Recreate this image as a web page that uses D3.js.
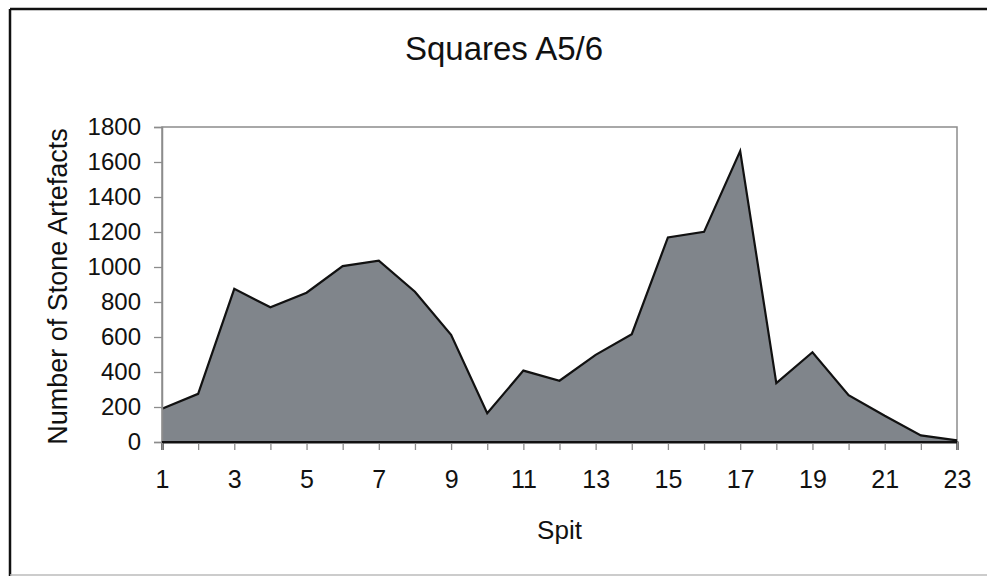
<!DOCTYPE html>
<html>
<head>
<meta charset="utf-8">
<script src="https://cdn.jsdelivr.net/npm/d3@7"></script>
<style>
  html, body { margin: 0; padding: 0; background: #fff; }
  svg { display: block; font-family: "Liberation Sans", Arial, sans-serif; }
  svg text { font-family: "Liberation Sans", Arial, sans-serif; }
</style>
</head>
<body>
<svg id="chart" width="987" height="576"></svg>
<script>
const spits = [1,2,3,4,5,6,7,8,9,10,11,12,13,14,15,16,17,18,19,20,21,22,23];
const artefacts = [190,275,875,770,853,1005,1036,859,612,165,408,350,498,616,1169,1201,1663,336,513,268,150,38,9];
const xTickLabels = [1,3,5,7,9,11,13,15,17,19,21,23];
const yTickLabels = [0,200,400,600,800,1000,1200,1400,1600,1800];
const title = "Squares A5/6";
const xTitle = "Spit";
const yTitle = "Number of Stone Artefacts";

(function () {
const svg = d3.select("#chart");
const pLeft = 162, pRight = 957, pTop = 127, pBottom = 442;

// outer frame
svg.append("line").attr("x1", 10).attr("x2", 10).attr("y1", 9).attr("y2", 576)
  .attr("stroke", "#111").attr("stroke-width", 2.5);
svg.append("line").attr("x1", 10).attr("x2", 987).attr("y1", 9).attr("y2", 9)
  .attr("stroke", "#111").attr("stroke-width", 2.5);
svg.append("line").attr("x1", 10).attr("x2", 987).attr("y1", 575).attr("y2", 575)
  .attr("stroke", "#bbb").attr("stroke-width", 1.5);

const x = d3.scaleLinear().domain([1, 23]).range([pLeft, pRight]);
const y = d3.scaleLinear().domain([0, 1800]).range([pBottom, pTop]);

// plot border
svg.append("rect").attr("x", pLeft).attr("y", pTop)
  .attr("width", pRight - pLeft).attr("height", pBottom - pTop)
  .attr("fill", "#fff").attr("stroke", "#8c8c8c").attr("stroke-width", 1.5);

const data = spits.map((s, i) => ({s, v: artefacts[i]}));

svg.append("path").datum(data)
  .attr("d", d3.area().x(d => x(d.s)).y0(y(0)).y1(d => y(d.v)))
  .attr("fill", "#80858b");

svg.append("path").datum(data)
  .attr("d", d3.line().x(d => x(d.s)).y(d => y(d.v)))
  .attr("fill", "none").attr("stroke", "#111").attr("stroke-width", 2.2)
  .attr("stroke-linejoin", "miter");

// x axis
const xAxis = svg.append("g").attr("transform", `translate(0,${pBottom})`)
  .call(d3.axisBottom(x).tickValues(spits).tickSize(8).tickPadding(20)
    .tickFormat(d => xTickLabels.includes(d) ? String(d) : ""));
xAxis.attr("font-size", 25).attr("font-family", null);
xAxis.select(".domain").attr("stroke", "#111").attr("stroke-width", 2.2);
xAxis.selectAll(".tick line").attr("stroke", "#8c8c8c").attr("stroke-width", 1.3);
xAxis.selectAll(".tick text").attr("fill", "#111");

// y axis
const yAxis = svg.append("g").attr("transform", `translate(${pLeft},0)`)
  .call(d3.axisLeft(y).tickValues(yTickLabels).tickSize(8).tickPadding(13)
    .tickFormat(d3.format("d")));
yAxis.attr("font-size", 24).attr("font-family", null);
yAxis.select(".domain").attr("stroke", "#8c8c8c").attr("stroke-width", 1.5);
yAxis.selectAll(".tick line").attr("stroke", "#8c8c8c").attr("stroke-width", 1.3);
yAxis.selectAll(".tick text").attr("fill", "#111");

// redraw baseline on top
svg.append("line").attr("x1", pLeft).attr("x2", pRight).attr("y1", pBottom).attr("y2", pBottom)
  .attr("stroke", "#111").attr("stroke-width", 2.2);

svg.append("text").attr("x", 504).attr("y", 60).attr("text-anchor", "middle")
  .attr("font-size", 33).attr("fill", "#111").text(title);

svg.append("text").attr("x", (pLeft + pRight) / 2).attr("y", 539).attr("text-anchor", "middle")
  .attr("font-size", 26).attr("fill", "#111").text(xTitle);

svg.append("text").attr("transform", `translate(67,${(pTop + pBottom) / 2 + 2}) rotate(-90)`)
  .attr("text-anchor", "middle").attr("font-size", 27).attr("fill", "#111").text(yTitle);
})();
</script>
</body>
</html>
